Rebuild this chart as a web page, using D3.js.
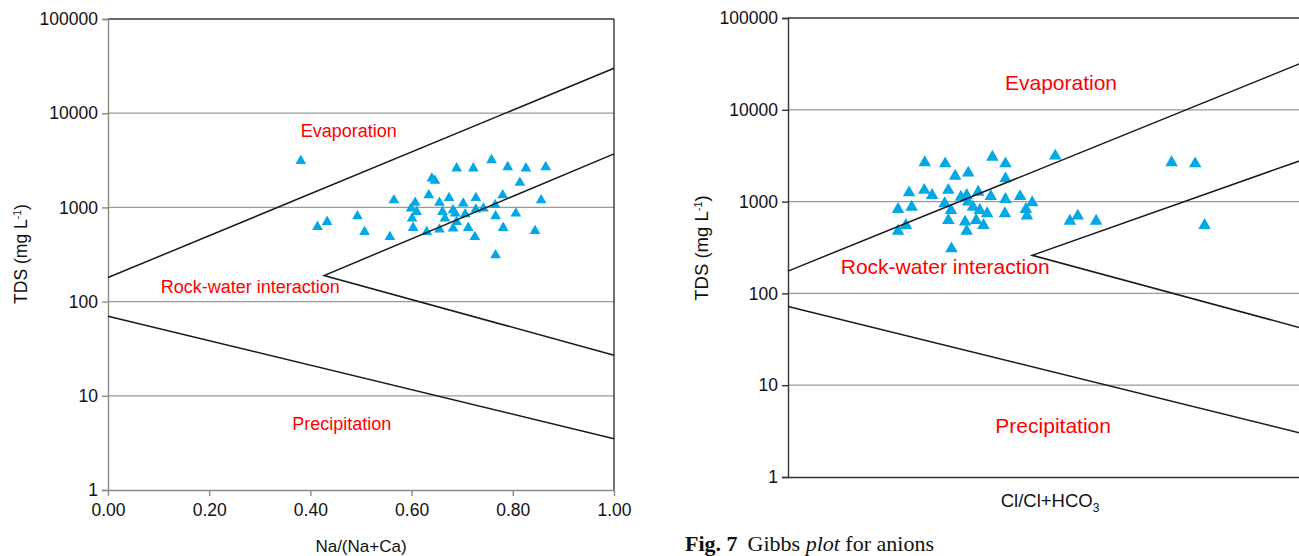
<!DOCTYPE html>
<html>
<head>
<meta charset="utf-8">
<script src="https://cdn.jsdelivr.net/npm/d3@7"></script>
<style>
  html, body { margin: 0; padding: 0; background: #fff; overflow: hidden; }
  svg { display: block; font-family: "Liberation Sans", Arial, sans-serif; }
</style>
</head>
<body>
<div id="chart"></div>
<script>
// Cation panel: Na/(Na+Ca) vs TDS
const cationRatio = [0.381, 0.689, 0.722, 0.758, 0.790, 0.826, 0.865, 0.640, 0.646, 0.814,
  0.565, 0.607, 0.634, 0.655, 0.674, 0.702, 0.727, 0.780, 0.856, 0.765,
  0.599, 0.610, 0.661, 0.682, 0.686, 0.706, 0.727, 0.742, 0.806, 0.766,
  0.493, 0.433, 0.414, 0.601, 0.666, 0.689, 0.507, 0.603, 0.630, 0.655,
  0.682, 0.712, 0.781, 0.844, 0.557, 0.725, 0.766];
const cationTDS = [3110, 2600, 2600, 3180, 2680, 2600, 2680, 2035, 1920, 1830,
  1195, 1120, 1350, 1120, 1260, 1100, 1260, 1350, 1195, 1060,
  975, 898, 898, 936, 862, 848, 952, 976, 862, 807,
  807, 703, 622, 762, 762, 703, 550, 607, 550, 583,
  598, 607, 607, 564, 486, 486, 311];

// Anion panel: Cl/(Cl+HCO3) vs TDS
const anionRatio = [0.261, 0.300, 0.390, 0.415, 0.510, 0.732, 0.777, 0.319, 0.344, 0.415,
  0.231, 0.260, 0.275, 0.306, 0.363, 0.387, 0.415, 0.443, 0.466, 0.330,
  0.341, 0.210, 0.236, 0.299, 0.311, 0.344, 0.353, 0.366, 0.380, 0.414,
  0.454, 0.456, 0.225, 0.210, 0.306, 0.338, 0.341, 0.359, 0.373, 0.312,
  0.538, 0.553, 0.588, 0.795];
const anionTDS = [2660, 2590, 3060, 2590, 3140, 2660, 2590, 1900, 2050, 1780,
  1250, 1330, 1170, 1330, 1270, 1140, 1060, 1140, 975, 1120,
  1170, 824, 873, 951, 803, 990, 873, 803, 740, 740,
  824, 697, 552, 478, 625, 600, 478, 625, 552, 307,
  614, 697, 614, 552];

// Gibbs boundary lines [ratio, TDS]
const cationUpper = [[0, 180], [1, 30000]];
const cationWedge = [[1, 3700], [0.427, 189], [1, 27]];
const cationLower = [[0, 70], [1, 3.5]];
const anionUpper = [[0, 175], [1, 36000]];
const anionWedge = [[1, 3100], [0.466, 260], [1, 39]];
const anionLower = [[0, 72], [1, 2.8]];

const yTicks = [1, 10, 100, 1000, 10000, 100000];
const xTicks = [0, 0.2, 0.4, 0.6, 0.8, 1.0];

const W = 1299, H = 556;
const svg = d3.select("#chart").append("svg")
  .attr("width", W).attr("height", H);

function panel(opts) {
  const x = d3.scaleLinear().domain([0, 1]).range([opts.left, opts.right]);
  const y = d3.scaleLog().domain([1, 100000]).range([opts.bottom, opts.top]);
  const g = svg.append("g");

  // grid lines
  g.selectAll(".grid").data(yTicks.slice(1, -1)).join("line")
    .attr("x1", opts.left).attr("x2", opts.right)
    .attr("y1", d => y(d)).attr("y2", d => y(d))
    .attr("stroke", "#9a9a9a").attr("stroke-width", 1.2);

  // frame top / right
  g.append("line").attr("x1", opts.left).attr("x2", opts.right)
    .attr("y1", opts.top).attr("y2", opts.top)
    .attr("stroke", "#333").attr("stroke-width", 1.4);
  g.append("line").attr("x1", opts.right).attr("x2", opts.right)
    .attr("y1", opts.top).attr("y2", opts.bottom)
    .attr("stroke", "#333").attr("stroke-width", 1.4);

  // y axis
  const yAxis = g.append("g").attr("transform", `translate(${opts.left},0)`)
    .call(d3.axisLeft(y).tickValues(yTicks).tickFormat(d3.format("d")).tickSize(6).tickPadding(4));
  yAxis.selectAll("path, line").attr("stroke", opts.axisColor).attr("stroke-width", 1.4);
  yAxis.selectAll("text").attr("font-size", 17.5).attr("fill", "#111")
    .attr("font-family", "Liberation Sans, Arial, sans-serif");

  // x axis
  const xAxisGen = d3.axisBottom(x).tickValues(opts.showX ? xTicks : [])
    .tickFormat(d3.format(".2f")).tickSize(6).tickPadding(8).tickSizeOuter(0);
  const xAxis = g.append("g").attr("transform", `translate(0,${opts.bottom})`).call(xAxisGen);
  xAxis.selectAll("path, line").attr("stroke", opts.axisColor).attr("stroke-width", 1.4);
  xAxis.selectAll("text").attr("font-size", 17.5).attr("fill", "#111")
    .attr("font-family", "Liberation Sans, Arial, sans-serif");

  // boundary lines
  const line = d3.line().x(d => x(d[0])).y(d => y(d[1]));

  // points
  const pts = d3.zip(opts.ratio, opts.tds);
  g.selectAll(".pt").data(pts).join("path")
    .attr("d", d3.symbol(d3.symbolTriangle, opts.markerSize))
    .attr("transform", d => `translate(${x(d[0])},${y(d[1])})`)
    .attr("fill", "#00a8e6");

  [opts.upper, opts.wedge, opts.lower].forEach(b => {
    g.append("path").datum(b).attr("d", line)
      .attr("fill", "none").attr("stroke", "#1a1a1a").attr("stroke-width", 1.5);
  });

  // region labels
  opts.labels.forEach(l => {
    g.append("text").attr("x", x(l.x)).attr("y", y(l.y))
      .attr("text-anchor", "middle").attr("fill", "#ff0000")
      .attr("font-size", opts.labelSize).text(l.text);
  });

  // y title
  const yt = g.append("text")
    .attr("transform", `translate(${opts.yTitleX},${opts.yTitleY}) rotate(-90)`)
    .attr("text-anchor", "middle").attr("font-size", opts.titleSize).attr("fill", "#111");
  yt.append("tspan").text("TDS (mg L");
  yt.append("tspan").attr("dy", -6).attr("font-size", opts.titleSize * 0.6).text("-1");
  yt.append("tspan").attr("dy", 6).text(")");

  return { x, y, g };
}

const p1 = panel({
  left: 108, right: 614, top: 19, bottom: 490,
  axisColor: "#8a8a8a", showX: true,
  ratio: cationRatio, tds: cationTDS, markerSize: 50,
  upper: cationUpper, wedge: cationWedge, lower: cationLower,
  labelSize: 18,
  labels: [
    { text: "Evaporation", x: 0.476, y: 5600 },
    { text: "Rock-water interaction", x: 0.281, y: 122 },
    { text: "Precipitation", x: 0.462, y: 4.3 }
  ],
  yTitleX: 27, yTitleY: 254, titleSize: 17.5
});

p1.g.append("text").attr("x", p1.x(0.5)).attr("y", 552)
  .attr("text-anchor", "middle").attr("font-size", 17).attr("fill", "#111")
  .text("Na/(Na+Ca)");

const p2 = panel({
  left: 788, right: 1312, top: 18, bottom: 477,
  axisColor: "#333", showX: false,
  ratio: anionRatio, tds: anionTDS, markerSize: 68,
  upper: anionUpper, wedge: anionWedge, lower: anionLower,
  labelSize: 21,
  labels: [
    { text: "Evaporation", x: 0.521, y: 16400 },
    { text: "Rock-water interaction", x: 0.300, y: 163 },
    { text: "Precipitation", x: 0.506, y: 3.0 }
  ],
  yTitleX: 708, yTitleY: 248, titleSize: 18.5
});

const xt2 = p2.g.append("text").attr("x", p2.x(0.5)).attr("y", 507)
  .attr("text-anchor", "middle").attr("font-size", 18.5).attr("fill", "#111");
xt2.append("tspan").text("Cl/Cl+HCO");
xt2.append("tspan").attr("dy", 5).attr("font-size", 12).text("3");

// figure caption
const cap = svg.append("text").attr("x", 685).attr("y", 551)
  .attr("font-family", "Liberation Serif, Times New Roman, serif")
  .attr("font-size", 22).attr("fill", "#111");
cap.append("tspan").attr("font-weight", "bold").text("Fig. 7");
cap.append("tspan").attr("dx", 10).text("Gibbs ");
cap.append("tspan").attr("font-style", "italic").text("plot");
cap.append("tspan").text(" for anions");
</script>
</body>
</html>
